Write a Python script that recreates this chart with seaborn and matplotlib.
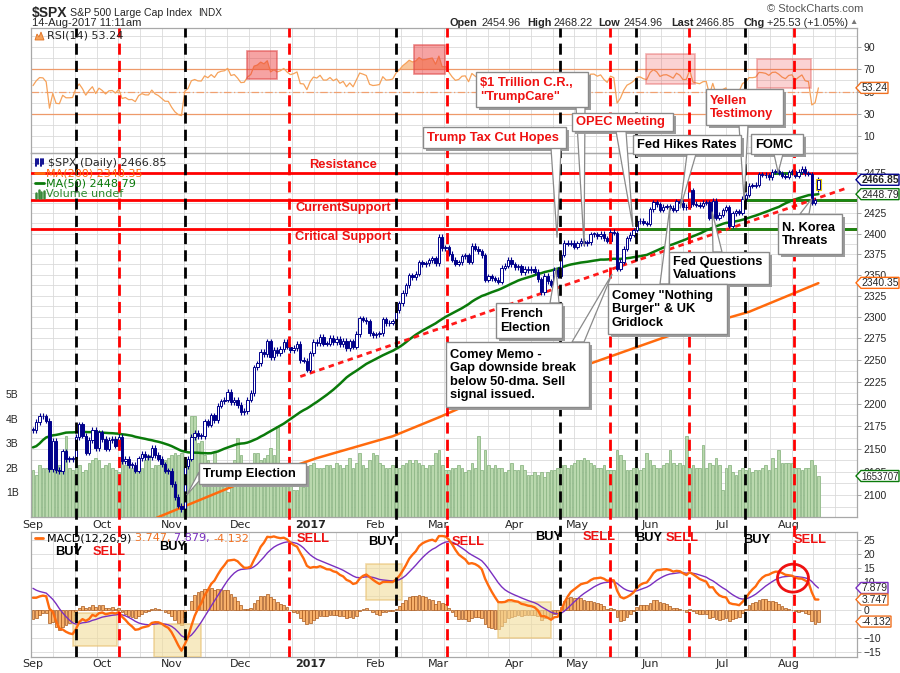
import numpy as np
import pandas as pd
import seaborn as sns
import matplotlib.pyplot as plt
from matplotlib.patches import Rectangle, Polygon, Ellipse
from matplotlib.lines import Line2D
from matplotlib.ticker import FixedLocator, NullLocator

# ---------------- data ----------------
# closes before the window, only used to warm up MA(50), RSI and MACD
warmup_closes = [2085.45, 2113.32, 2037.41, 2000.54, 2036.09, 2070.77, 2098.86,
                 2102.95, 2088.55, 2099.73, 2097.90, 2129.90, 2137.16, 2152.14, 2152.43, 2163.75, 2161.74,
                 2166.89, 2163.78, 2173.02, 2165.17, 2175.03, 2168.48, 2169.18, 2166.58, 2170.06, 2173.60,
                 2170.84, 2157.03, 2163.79, 2164.25, 2182.87, 2180.89, 2181.74, 2175.49, 2185.79, 2184.05,
                 2190.15, 2178.15, 2182.22, 2187.02, 2183.87, 2182.64, 2186.90, 2175.44, 2172.47, 2169.04,
                 2180.38, 2176.12, 2170.95]

close_sep = [2170.86, 2179.98, 2186.48, 2186.16, 2181.30, 2127.81, 2159.04, 2127.02, 2125.77, 2147.26, 2139.16,
             2139.12, 2139.76, 2163.12, 2177.18, 2164.69, 2146.10, 2159.93, 2171.37, 2151.13, 2168.27]
close_oct = [2161.20, 2150.49, 2159.73, 2160.77, 2153.74, 2163.66, 2136.73, 2139.18, 2132.55, 2132.98, 2126.50,
             2139.60, 2144.29, 2141.34, 2141.16, 2151.33, 2143.16, 2139.43, 2133.04, 2126.41, 2126.15]
close_nov = [2111.72, 2097.94, 2088.66, 2085.18, 2131.52, 2139.56, 2163.26, 2167.48, 2164.45, 2164.20, 2180.39,
             2176.94, 2187.12, 2181.90, 2198.18, 2202.94, 2204.72, 2213.35, 2201.72, 2204.66, 2198.81]
close_dec = [2191.08, 2191.95, 2204.71, 2212.23, 2241.35, 2246.19, 2259.53, 2256.96, 2271.72, 2253.28, 2262.03,
             2258.07, 2262.53, 2270.76, 2265.18, 2260.96, 2263.79, 2268.88, 2249.92, 2249.26, 2238.83]
close_jan = [2257.83, 2270.75, 2269.00, 2276.98, 2268.90, 2268.90, 2275.32, 2270.44, 2274.64, 2267.89, 2271.89,
             2263.69, 2271.31, 2265.20, 2280.07, 2298.37, 2296.68, 2294.69, 2280.90, 2278.87]
close_feb = [2279.55, 2280.85, 2297.42, 2292.56, 2293.08, 2294.67, 2307.87, 2316.10, 2328.25, 2337.58, 2349.25,
             2347.22, 2351.16, 2365.38, 2362.82, 2363.81, 2367.34, 2369.75, 2363.64]
close_mar = [2395.96, 2381.92, 2383.12, 2375.31, 2368.39, 2362.98, 2364.87, 2372.60, 2373.47, 2365.45, 2385.26,
             2381.38, 2378.25, 2373.47, 2344.02, 2348.45, 2345.96, 2343.98, 2341.59, 2358.57, 2361.13, 2368.06,
             2362.72]
close_apr = [2358.84, 2360.16, 2352.95, 2357.49, 2355.54, 2357.16, 2353.78, 2344.93, 2328.95, 2349.01, 2342.19,
             2338.17, 2355.84, 2348.69, 2374.15, 2388.61, 2387.45, 2388.77, 2384.20]
close_may = [2388.33, 2391.17, 2388.13, 2389.52, 2399.29, 2399.38, 2396.92, 2399.63, 2394.44, 2390.90, 2402.32,
             2400.67, 2357.03, 2365.72, 2381.73, 2394.02, 2398.42, 2404.39, 2415.07, 2415.82, 2412.91, 2411.80]
close_jun = [2430.06, 2439.07, 2436.10, 2429.33, 2433.14, 2433.79, 2431.77, 2429.39, 2440.35, 2437.92, 2432.46,
             2433.15, 2453.46, 2437.03, 2435.61, 2434.50, 2438.30, 2439.07, 2419.38, 2440.69, 2419.70, 2423.41]
close_jul = [2429.01, 2432.54, 2409.75, 2425.18, 2427.43, 2425.53, 2443.25, 2447.83, 2459.27, 2459.14, 2460.61,
             2473.83, 2473.45, 2472.54, 2469.91, 2477.13, 2477.83, 2475.42, 2472.10, 2470.30]
close_aug = [2476.35, 2477.57, 2472.16, 2476.83, 2480.91, 2474.92, 2474.02, 2438.21, 2441.32, 2466.85]
last_open, last_high, last_low = 2454.96, 2468.22, 2454.96

# volume in billions
vol_sep = [1.9, 1.7, 2.1, 2.0, 2.0, 3.0, 2.6, 2.4, 2.1, 2.2, 3.3, 2.0, 1.9, 2.3, 2.1, 1.8, 1.9, 2.2, 2.3, 2.4, 2.3]
vol_oct = [2.0, 2.1, 2.2, 2.0, 1.9, 1.8, 2.3, 2.1, 2.2, 2.0, 1.9, 2.1, 2.0, 2.3, 2.5, 2.0, 2.1, 2.1, 2.2, 2.3, 2.4]
vol_nov = [2.5, 2.6, 2.5, 2.6, 2.4, 2.3, 4.1, 4.1, 3.0, 3.1, 2.5, 2.3, 2.2, 2.6, 2.0, 2.2, 1.8, 1.0, 2.1, 2.3, 3.2]
vol_dec = [2.5, 2.2, 2.1, 2.1, 2.6, 2.6, 2.3, 2.4, 2.5, 2.8, 2.5, 3.7, 2.0, 1.9, 1.9, 1.6, 1.1, 1.1, 1.4, 1.2, 1.5]
vol_jan = [2.1, 2.2, 2.0, 2.0, 2.0, 2.1, 2.1, 2.0, 2.2, 2.1, 2.0, 2.1, 2.4, 2.0, 2.2, 2.6, 2.1, 2.0, 2.3, 2.6]
vol_feb = [2.5, 2.2, 2.1, 2.0, 2.0, 2.1, 2.1, 2.0, 2.1, 2.2, 2.3, 2.2, 2.3, 2.2, 2.1, 2.0, 2.1, 2.1, 2.6]
vol_mar = [2.7, 2.1, 1.9, 1.9, 2.0, 2.0, 2.1, 2.0, 1.8, 1.9, 2.2, 2.0, 3.3, 1.9, 2.7, 2.1, 2.0, 2.1, 2.0, 2.0,
           1.8, 1.9, 2.2]
vol_apr = [1.9, 1.9, 2.1, 1.9, 1.7, 1.7, 1.8, 1.7, 1.8, 1.6, 1.8, 1.9, 1.9, 2.0, 2.1, 2.1, 2.0, 2.1, 2.2]
vol_may = [2.3, 2.3, 2.4, 2.3, 2.2, 2.1, 2.0, 2.0, 2.1, 1.9, 1.9, 1.9, 2.7, 2.5, 2.3, 1.9, 1.9, 2.0, 2.0, 1.9,
           2.0, 2.6]
vol_jun = [2.3, 2.1, 2.0, 2.0, 2.1, 2.2, 2.7, 2.2, 2.1, 2.2, 2.1, 3.3, 2.0, 2.1, 2.0, 2.0, 2.9, 2.0, 2.2, 2.1,
           2.4, 2.1]
vol_jul = [1.1, 2.0, 2.1, 1.8, 1.7, 1.9, 2.0, 1.9, 2.0, 1.8, 1.9, 1.9, 2.0, 2.1, 1.9, 2.4, 2.0, 2.7, 2.2, 2.2]
vol_aug = [2.2, 2.2, 2.0, 2.0, 1.9, 2.0, 2.0, 2.3, 2.1, 1.65]

# MA(200) (trading-day index, value)
ma200_idx = [37, 39, 61, 82, 86, 109, 123, 131, 169, 192, 208, 217, 238]
ma200_val = [2075, 2078, 2110, 2135, 2140, 2164, 2185, 2198, 2246, 2277, 2296, 2306, 2340]

# signal lines (trading-day index)
buy_idx = [13.0, 46.1, 110.0, 159.7, 182.7, 215.8]
sell_idx = [26.1, 77.6, 125.5, 174.8, 198.8, 230.6]

# levels drawn on the chart
resistance, current_support, critical_support = 2475, 2441, 2406
trend_idx, trend_val = [81, 247], [2231, 2457]

holidays = ['2016-09-05', '2016-11-24', '2016-12-26', '2017-01-02', '2017-01-16',
            '2017-02-20', '2017-04-14', '2017-05-29', '2017-07-04']

# ---------------- derived series ----------------
closes = (close_sep + close_oct + close_nov + close_dec + close_jan + close_feb +
          close_mar + close_apr + close_may + close_jun + close_jul + close_aug)
volumes = (vol_sep + vol_oct + vol_nov + vol_dec + vol_jan + vol_feb +
           vol_mar + vol_apr + vol_may + vol_jun + vol_jul + vol_aug)
dates = pd.bdate_range('2016-09-01', '2017-08-14')
dates = dates[~dates.isin(pd.to_datetime(holidays))]
n = len(closes)
assert len(dates) == n == len(volumes)

nw = len(warmup_closes)
allc = pd.Series(warmup_closes + closes)
ma50 = allc.rolling(50).mean().iloc[nw:].to_numpy()
ema12 = allc.ewm(span=12, adjust=False).mean()
ema26 = allc.ewm(span=26, adjust=False).mean()
macd_all = ema12 - ema26
signal_all = macd_all.ewm(span=9, adjust=False).mean()
macd = macd_all.iloc[nw:].to_numpy()
signal = signal_all.iloc[nw:].to_numpy()
hist = macd - signal
delta = allc.diff()
gain = delta.clip(lower=0).ewm(alpha=1 / 14, adjust=False).mean()
loss = (-delta.clip(upper=0)).ewm(alpha=1 / 14, adjust=False).mean()
rsi = (100 - 100 / (1 + gain / loss)).iloc[nw:].to_numpy()

idx = np.arange(n)
df = pd.DataFrame({'i': idx, 'close': closes, 'volume': volumes, 'ma50': ma50,
                   'rsi': rsi, 'macd': macd, 'signal': signal})

month_starts = np.r_[0, np.nonzero(dates.month[1:] != dates.month[:-1])[0] + 1]
month_labels = ['2017' if dates[k].month == 1 else dates[k].strftime('%b') for k in month_starts]

# ---------------- figure ----------------
sns.set_theme(style="white")
plt.rcParams['font.family'] = ['Liberation Sans', 'DejaVu Sans']

W, H = 900, 673
fig = plt.figure(figsize=(9, 6.73), dpi=100)
fig.patch.set_facecolor('white')
XL = (-0.6, 249.7)
GRID = '#dadada'
navy = '#00008b'
orange = '#ff6a0d'
green = '#0a7a0a'


def frame(l, t, r, b):
    return [l / W, 1 - b / H, (r - l) / W, (b - t) / H]


def fp(x, y):
    return (x / W, 1 - y / H)


def data_px(ax, x, y):
    dx, dy = ax.transData.transform((x, y))
    return dx, H - dy


def style(ax):
    ax.set_xlim(XL)
    ax.set_facecolor('none')
    for s in ax.spines.values():
        s.set_color('#a8a8a8')
        s.set_linewidth(0.9)
    ax.set_xlabel('')
    ax.set_ylabel('')


vgrid = 6.15 + 6.58 * np.arange(38)

# ---------- RSI panel ----------
ax_rsi = fig.add_axes(frame(31, 28, 857, 153))
style(ax_rsi)
ax_rsi.set_ylim(-5.1, 106.9)
for v in vgrid:
    ax_rsi.axvline(v, color=GRID, lw=0.6, zorder=0)
for g in range(0, 101, 10):
    ax_rsi.axhline(g, color=GRID, lw=0.6, zorder=0)
ax_rsi.axhline(70, color='#ee9a6a', lw=0.9, zorder=1)
ax_rsi.axhline(30, color='#ee9a6a', lw=0.9, zorder=1)
ax_rsi.axhline(50, color='#f0a070', lw=0.9, ls=(0, (6, 2, 1, 2)), zorder=1)
sns.lineplot(data=df, x='i', y='rsi', ax=ax_rsi, color='#f6a25a', lw=0.9, zorder=3)
ax_rsi.fill_between(idx, 70, rsi, where=rsi >= 70, interpolate=True, color='#f6a25a', alpha=0.6, lw=0, zorder=2)
ax_rsi.fill_between(idx, 30, rsi, where=rsi <= 30, interpolate=True, color='#f6a25a', alpha=0.6, lw=0, zorder=2)
for (x0, x1, y0, y1, a) in [(65, 74, 61.6, 86.4, 0.45), (115.5, 124.8, 66, 91.8, 0.45),
                            (185.8, 200.6, 57.1, 83.8, 0.22), (219.4, 235.8, 52.7, 79.3, 0.22)]:
    ax_rsi.add_patch(Rectangle((x0, y0), x1 - x0, y1 - y0, facecolor=(0.93, 0.2, 0.2, a),
                               edgecolor=(0.88, 0.3, 0.3, a + 0.2), lw=1.2, zorder=4))
ax_rsi.yaxis.tick_right()
ax_rsi.yaxis.set_major_locator(FixedLocator([10, 30, 50, 70, 90]))
ax_rsi.tick_params(axis='y', right=True, length=3, width=0.6, color='#999', labelsize=7.5, pad=1.5)
ax_rsi.set_xticks([])
ax_rsi.set_xlabel('')
ax_rsi.set_ylabel('')

# ---------- price / volume panel ----------
ax_vol = fig.add_axes(frame(31, 153, 857, 517))
style(ax_vol)
ax_p = ax_vol.twinx()
ax_p.set_xlim(XL)
ax_p.set_yscale('log')
ax_p.set_ylim(2076.6, 2500.8)
ax_vol.set_ylim(-0.02, 14.84)
for v in vgrid:
    ax_vol.axvline(v, color=GRID, lw=0.6, zorder=0)
for gp in np.arange(2087.5, 2500, 12.5):
    ax_vol.plot(XL, [gp, gp], color=GRID, lw=0.6, zorder=0, transform=ax_p.transData)
ax_vol.set_ylim(-0.02, 14.84)
ax_vol.bar(idx, volumes, width=0.8, color='#b9d8ad', edgecolor='#8fb887', lw=0.6, zorder=2)
ax_vol.yaxis.set_major_locator(FixedLocator([1, 2, 3, 4, 5]))
ax_vol.set_yticklabels(['1B', '2B', '3B', '4B', '5B'])
ax_vol.tick_params(axis='y', left=False, labelsize=7.5, pad=3)
ax_vol.set_xticks(month_starts)
ax_vol.set_xticklabels(month_labels, fontsize=8, family='DejaVu Sans')
ax_vol.tick_params(axis='x', length=0, pad=2)
for lab in ax_vol.get_xticklabels():
    if lab.get_text() == '2017':
        lab.set_fontweight('bold')

# support / resistance
for lvl in (resistance, current_support, critical_support):
    ax_p.axhline(lvl, color='#ff0000', lw=2, zorder=2)
ax_p.hlines(critical_support, 182.4, XL[1], color='#138a13', lw=2, zorder=2.1)
ax_p.hlines(current_support, 215.8, XL[1], color='#138a13', lw=2, zorder=2.1)
ax_p.hlines(resistance, 224, 233, color='#138a13', lw=2, zorder=2.1)

# moving averages and trend line
sns.lineplot(data=df, x='i', y='ma50', ax=ax_p, color=green, lw=1.8, zorder=3)
sns.lineplot(x=ma200_idx, y=ma200_val, ax=ax_p, color=orange, lw=1.8, zorder=3)
ax_p.plot(trend_idx, trend_val, color='#ff1a1a', lw=2, ls=(0, (2, 1.6)), zorder=3)

# candles
c = np.array(closes)
o = np.r_[warmup_closes[-1], c[:-1]]
o[-1] = last_open
top = np.maximum(o, c)
bot = np.minimum(o, c)
wick = 3.0
ax_p.vlines(idx, bot - wick, top + wick, color=navy, lw=0.8, zorder=4)
body = np.maximum(top - bot, 0.8)
up = c >= o
ax_p.add_patch(Rectangle((idx[-1] - 0.75, bot[-1] - 1.5), 1.5, body[-1] + 3, facecolor='#f5e400',
                         edgecolor='#e0c800', lw=0.8, zorder=4.5))
ax_p.bar(idx[up], body[up], bottom=bot[up], width=0.72, facecolor='white', edgecolor=navy, lw=0.7, zorder=5)
ax_p.bar(idx[~up], body[~up], bottom=bot[~up], width=0.72, facecolor=navy, edgecolor=navy, lw=0.7, zorder=5)

price_ticks = [v for v in range(2100, 2476, 25) if v != 2450]
ax_p.yaxis.set_major_locator(FixedLocator(price_ticks))
ax_p.yaxis.set_minor_locator(NullLocator())
ax_p.set_yticklabels([str(v) for v in price_ticks])
ax_p.tick_params(axis='y', which='both', right=True, length=3, width=0.6, color='#999',
                 labelsize=7.5, pad=1.5)
ax_p.set_xlabel('')
ax_p.set_ylabel('')
for s in ax_p.spines.values():
    s.set_visible(False)

# ---------- MACD panel ----------
ax_m = fig.add_axes(frame(31, 532, 857, 657))
style(ax_m)
ax_m.set_ylim(-16.8, 27.9)
for v in vgrid:
    ax_m.axvline(v, color=GRID, lw=0.6, zorder=0)
for g in range(-15, 26, 5):
    ax_m.axhline(g, color=GRID, lw=0.6, zorder=0)
ax_m.bar(idx, hist, width=0.85, color='#f7b06a', edgecolor='#a8581c', lw=0.5, zorder=2)
for (x0, x1, y0, y1) in [(12.1, 25.5, -12.9, -1.1), (36.7, 50.9, -16.8, -5.0),
                         (100.9, 111.8, 3.6, 16.4), (140.9, 157.0, -10.0, 2.9)]:
    ax_m.add_patch(Rectangle((x0, y0), x1 - x0, y1 - y0, facecolor='#f2dc9a', alpha=0.6,
                             edgecolor='#e8c070', lw=1.2, zorder=3))
sns.lineplot(data=df, x='i', y='signal', ax=ax_m, color='#7a2fc0', lw=1.0, zorder=4)
sns.lineplot(data=df, x='i', y='macd', ax=ax_m, color=orange, lw=1.7, zorder=5)
ax_m.add_patch(Ellipse((230.3, 11.4), 9.4, 10.0, facecolor='none', edgecolor='#ee1111', lw=2, zorder=6))
ax_m.yaxis.tick_right()
ax_m.yaxis.set_major_locator(FixedLocator([-15, -10, 0, 10, 15, 20, 25]))
ax_m.tick_params(axis='y', right=True, length=3, width=0.6, color='#999', labelsize=7.5, pad=1.5)
ax_m.set_xticks(month_starts)
ax_m.set_xticklabels(month_labels, fontsize=8, family='DejaVu Sans')
ax_m.tick_params(axis='x', length=0, pad=1.5)
for lab in ax_m.get_xticklabels():
    if lab.get_text() == '2017':
        lab.set_fontweight('bold')
ax_m.set_xlabel('')
ax_m.set_ylabel('')

# ---------- buy / sell dashed lines through all panels ----------
ax_sig = fig.add_axes(frame(31, 28, 857, 657))
ax_sig.set_xlim(XL)
ax_sig.set_ylim(0, 1)
ax_sig.axis('off')
for x in buy_idx:
    ax_sig.axvline(x, color='black', lw=2, ls=(0, (4, 2.2)))
for x in sell_idx:
    ax_sig.axvline(x, color='#ff0000', lw=2, ls=(0, (4, 2.2)))

# ---------- header ----------
fig.text(*fp(32, 13), '$SPX', fontsize=10, fontweight='bold', va='center')
fig.text(*fp(70, 13), 'S&P 500 Large Cap Index', fontsize=7.6, va='center')
fig.text(*fp(198, 13), 'INDX', fontsize=7.2, va='center')
fig.text(*fp(32, 23.5), '14-Aug-2017 11:11am', fontsize=8, va='center')
fig.text(*fp(767, 9.5), '\u00a9 StockCharts.com', fontsize=8, color='#555555', va='center')
for txt, x, bold in [('Open', 450, True), ('2454.96', 482, False), ('High', 527, True), ('2468.22', 553, False),
                     ('Low', 598, True), ('2454.96', 623, False), ('Last', 671, True), ('2466.85', 695, False),
                     ('Chg', 743, True), ('+25.53 (+1.05%)', 767, False)]:
    fig.text(*fp(x, 22.5), txt, fontsize=7.8, fontweight='bold' if bold else 'normal', va='center')
fig.text(*fp(849, 22), '\u25b2', fontsize=6, color='#777777', va='center')

# ---------- panel legends ----------
fig.add_artist(Polygon([fp(35, 40), fp(37, 34), fp(39, 37), fp(41, 32), fp(44, 40)], closed=True,
                       facecolor='#f6a25a', edgecolor='#e07020', lw=0.6))
fig.text(*fp(47, 35.5), 'RSI(14) 53.24', fontsize=8, family='DejaVu Sans', va='center')
for k, xx in enumerate([35.5, 38, 40.5, 43]):
    fig.add_artist(Line2D([xx / W, xx / W], [1 - 159 / H, 1 - (166 - k % 2 * 2) / H], color=navy, lw=1.3))
fig.text(*fp(48, 163), '$SPX (Daily) 2466.85', fontsize=8, family='DejaVu Sans', va='center')
fig.add_artist(Line2D([35 / W, 44 / W], [1 - 173 / H] * 2, color=orange, lw=2))
fig.text(*fp(46, 173.5), 'MA(200) 2340.35', fontsize=8, family='DejaVu Sans', color=orange, va='center')
fig.add_artist(Line2D([35 / W, 44 / W], [1 - 183.5 / H] * 2, color=green, lw=2))
fig.text(*fp(46, 184), 'MA(50) 2448.79', fontsize=8, family='DejaVu Sans', color=green, va='center')
for k, (xx, hh) in enumerate([(36, 5), (38.5, 8), (41, 6), (43.5, 7)]):
    fig.add_artist(Line2D([xx / W, xx / W], [1 - 198 / H, 1 - (198 - hh) / H], color='#3a8a3a', lw=1.8))
fig.text(*fp(46, 194), 'Volume undef', fontsize=8, family='DejaVu Sans', color='#2f8a2f', va='center')

fig.add_artist(Line2D([35 / W, 43 / W], [1 - 538 / H] * 2, color=orange, lw=2))
xm = 47
for txt, col in [('MACD(12,26,9) ', 'black'), ('3.747, ', '#f07020'), ('7.879, ', '#7a2fc0'), ('-4.132', '#f07020')]:
    t = fig.text(*fp(xm, 538.5), txt, fontsize=8, family='DejaVu Sans', color=col, va='center')
    fig.canvas.draw()
    bb = t.get_window_extent()
    xm += bb.width

# ---------- level labels ----------
for txt, y in [('Resistance', 165.5), ('CurrentSupport', 207.5), ('Critical Support', 237)]:
    fig.text(*fp(343, y), txt, fontsize=9.3, fontweight='bold', color='#ee1111', ha='center', va='center')

# ---------- BUY / SELL words in MACD ----------
for txt, x, y in [('BUY', 69, 552), ('SELL', 109, 552), ('BUY', 173, 547), ('SELL', 313, 539),
                  ('BUY', 382, 542), ('SELL', 468, 542), ('BUY', 549, 537), ('SELL', 599, 537),
                  ('BUY', 649, 538), ('SELL', 682, 538), ('BUY', 757, 540), ('SELL', 810, 540)]:
    fig.text(*fp(x, y), txt, fontsize=9.3, fontweight='bold', color='black' if txt == 'BUY' else '#ee1111',
             ha='center', va='center', zorder=8)

# ---------- callouts ----------
callouts = [
    ('Trump Election', 'black', (199, 463, 306, 484), ((199, 472), (199, 481)), (46.6, 2100)),
    ('$1 Trillion C.R.,\n"TrumpCare"', '#ee1111', (476, 72, 588, 107), ((576, 107), (585, 107)), (167, 2385)),
    ('Trump Tax Cut Hopes', '#ee1111', (423, 127, 566, 148), ((551, 148), (561, 148)), (158.8, 2395)),
    ('OPEC Meeting', '#ee1111', (572, 113, 673, 131), ((616, 131), (626, 131)), (181.8, 2408)),
    ('Yellen\nTestimony', '#ee1111', (706, 89, 783, 125), ((739, 125), (748, 125)), (215.5, 2441)),
    ('Fed Hikes Rates', 'black', (633, 135, 741, 154), ((687, 154), (696, 154)), (196.1, 2431)),
    ('FOMC', 'black', (751, 134, 803, 154), ((774, 154), (783, 154)), (225.8, 2476)),
    ('N. Korea\nThreats', 'black', (778, 214, 842, 254), ((800, 214), (809, 214)), (236, 2443)),
    ('Fed Questions\nValuations', 'black', (669, 252, 769, 284), ((713, 252), (722, 252)), (205.8, 2427)),
    ('Comey "Nothing\nBurger" & UK\nGridlock', 'black', (608, 284, 727, 334), ((660, 284), (669, 284)), (193, 2433)),
    ('French\nElection', 'black', (496, 303, 562, 338), ((550, 303), (559, 303)), (158.5, 2358)),
    ('Comey Memo -\nGap downside break\nbelow 50-dma. Sell\nsignal issued.', 'black', (446, 342, 589, 407),
     ((572, 342), (584, 342)), (175.5, 2351)),
]
for k, (txt, col, (l, t, r, b), (b1, b2), tip) in enumerate(callouts):
    z = 10 + k
    tx, ty = data_px(ax_p, *tip)
    fig.add_artist(Rectangle(fp(l + 3, b + 3), (r - l) / W, (b - t) / H, facecolor='#9c9c9c',
                             edgecolor='none', zorder=z))
    fig.add_artist(Polygon([fp(*b1), fp(*b2), fp(tx, ty)], closed=True, facecolor='white',
                           edgecolor='#8a8a8a', lw=0.9, zorder=z + 0.1))
    fig.add_artist(Rectangle(fp(l, b), (r - l) / W, (b - t) / H, facecolor='white',
                             edgecolor='#8a8a8a', lw=1.0, zorder=z + 0.2))
    fig.text(*fp(l + 4, (t + b) / 2 + 0.5), txt, fontsize=9.3, fontweight='bold', color=col,
             ha='left', va='center', linespacing=1.12, zorder=z + 0.3)


# ---------- value flags on the right ----------
def flag(ax, val, text, edge, bold=False, w=43, size=7.5):
    _, y = data_px(ax, 0, val)
    x0, h = 856, 11
    pts = [(x0, y), (x0 + 5, y - h / 2), (x0 + w, y - h / 2), (x0 + w, y + h / 2), (x0 + 5, y + h / 2)]
    fig.add_artist(Polygon([fp(*p) for p in pts], closed=True, facecolor='white', edgecolor=edge,
                           lw=1.0, zorder=30))
    fig.text(*fp(x0 + 5.5, y + 0.5), text, fontsize=size, fontweight='bold' if bold else 'normal',
             va='center', zorder=31)


flag(ax_rsi, 53.24, '53.24', '#f07020', w=32)
flag(ax_p, 2466.85, '2466.85', navy, bold=True)
flag(ax_p, 2448.79, '2448.79', green)
flag(ax_p, 2340.35, '2340.35', orange)
flag(ax_vol, 1.653707, '1653707', green, size=6.9)
flag(ax_m, 7.879, '7.879', '#7a2fc0', w=32)
flag(ax_m, 3.747, '3.747', '#f07020', w=32)
flag(ax_m, -4.132, '-4.132', '#f07020', w=35)

fig.savefig('out.png', dpi=100, facecolor='white')
